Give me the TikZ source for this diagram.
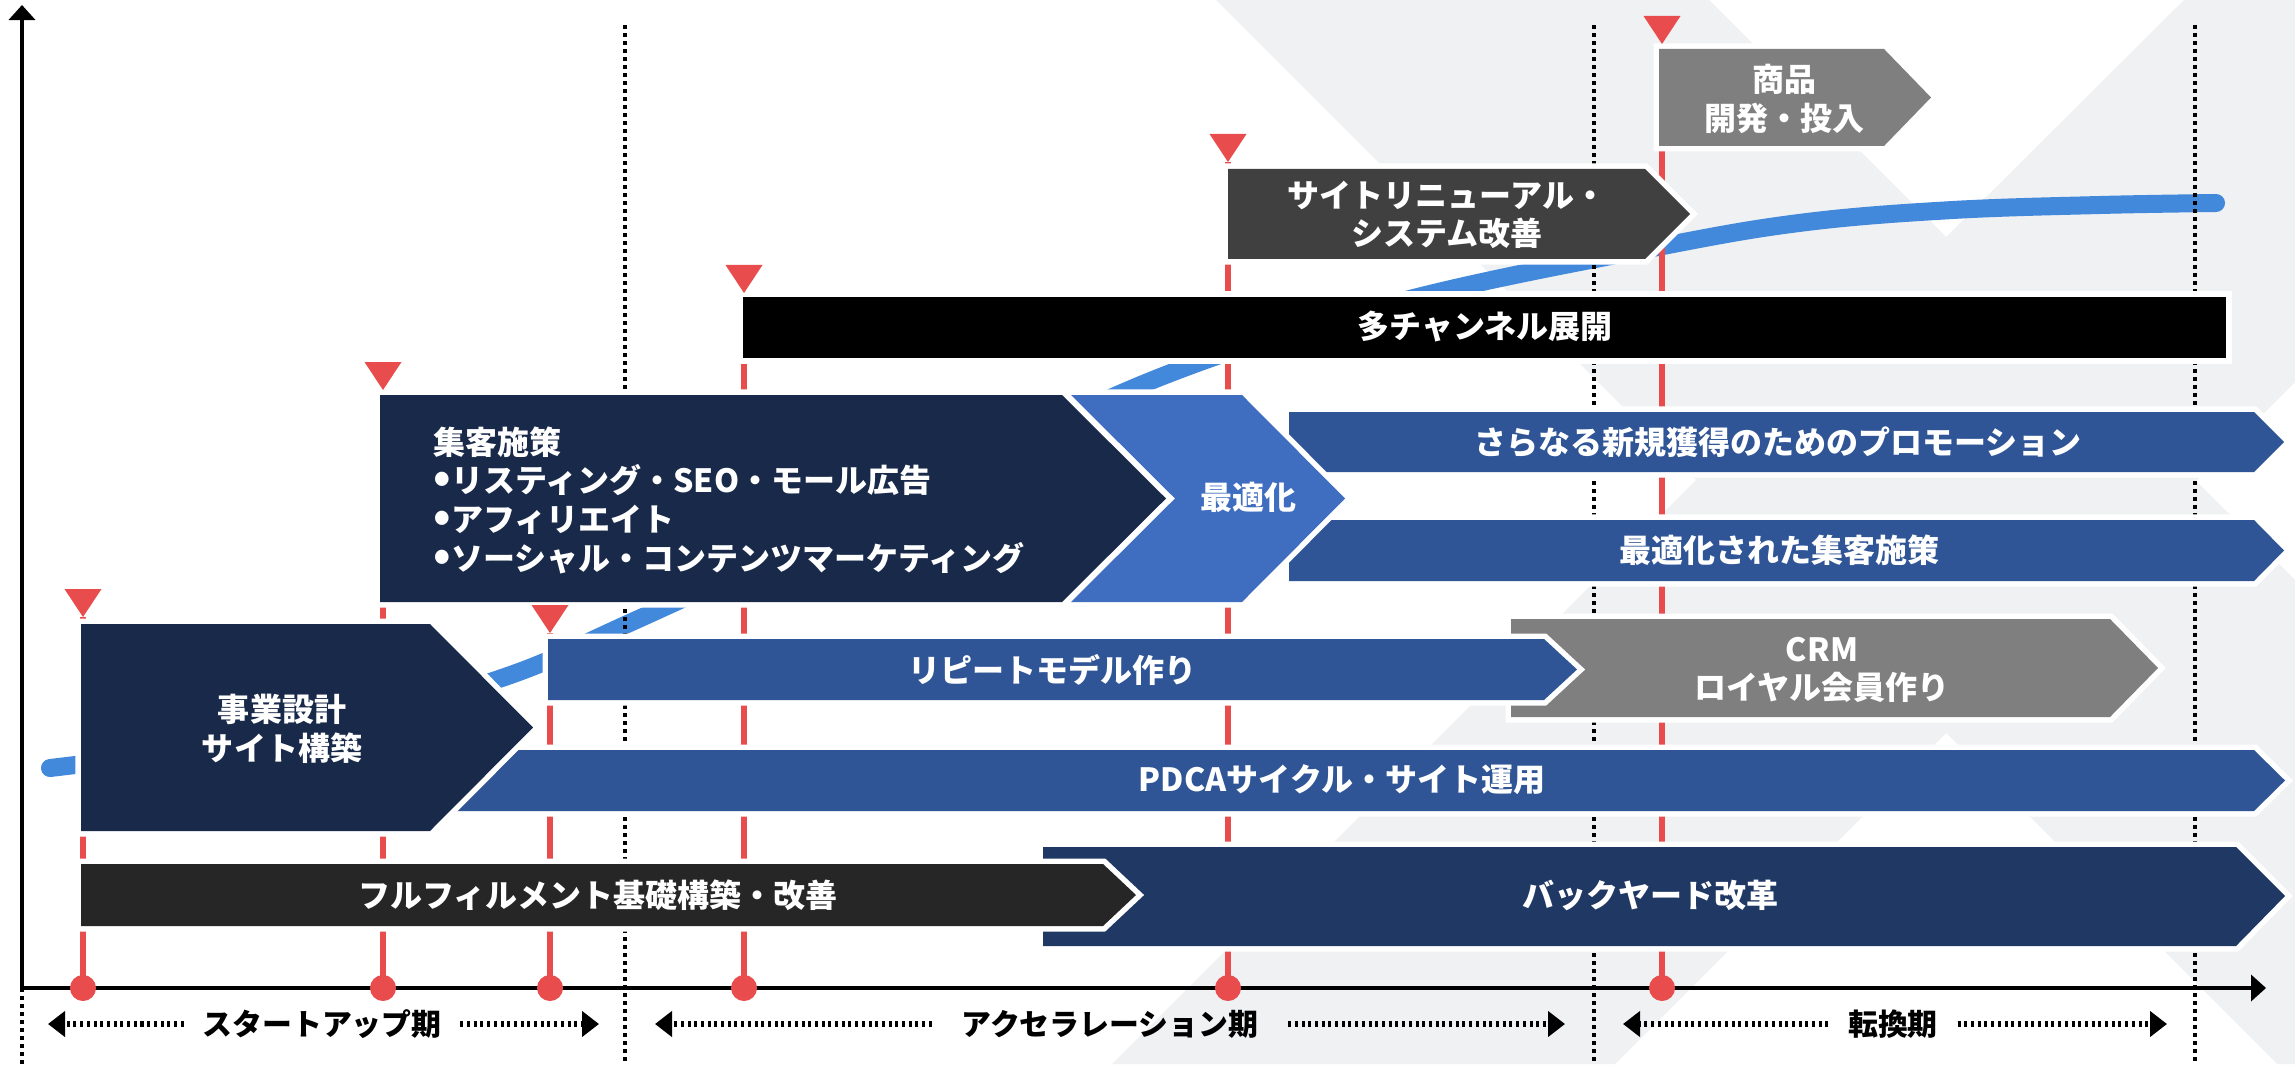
\documentclass[tikz,border=0pt]{standalone}
\usepackage{fontspec}
\setmainfont{Noto Sans CJK JP}
\usetikzlibrary{arrows.meta}
\definecolor{navy}{HTML}{19294A}
\definecolor{navyB}{HTML}{203864}
\definecolor{midblue}{HTML}{2F5597}
\definecolor{optblue}{HTML}{3F6DBF}
\definecolor{grayM}{HTML}{7F7F7F}
\definecolor{grayD}{HTML}{404040}
\definecolor{grayK}{HTML}{262626}
\definecolor{mred}{HTML}{E84C4C}
\definecolor{curveblue}{HTML}{4289DC}
\definecolor{bggray}{HTML}{F0F1F3}
\newcommand{\bigbul}{{\fontsize{12.5pt}{11pt}\selectfont •}}
\tikzset{
  bar/.style={fill=#1, preaction={draw=white, line width=0.11cm}},
  lbl/.style={text=white, font=\fontsize{9.1pt}{11pt}\selectfont\bfseries, inner sep=0pt, align=center},
  per/.style={text=black, font=\fontsize{8.5pt}{10pt}\selectfont\bfseries, inner ysep=0pt},
  vdots/.style={line width=0.042cm, dash pattern=on 0.04cm off 0.04cm},
  perline/.style={line width=0.052cm, dash pattern=on 0.03cm off 0.037cm, -{Triangle[length=0.17cm,width=0.25cm]}},
  redline/.style={mred, line width=0.055cm},
  mdot/.style={circle, fill=mred, inner sep=0pt, minimum size=0.26cm},
  axis/.style={line width=0.045cm, {Triangle[length=0.15cm,width=0.26cm]}-{Triangle[length=0.15cm,width=0.26cm]}},
}
\begin{document}
\begin{tikzpicture}[x=0.01cm, y=-0.01cm]
\useasboundingbox (0,0) rectangle (2295,1064);
\fill[white] (0,0) rectangle (2295,1064);
% background pattern
\fill[bggray] (1216,0) -- (1709,0) -- (1946,237) -- (2184,0) -- (2295,0) -- (2295,382) -- (2196,481) -- (2295,580) -- (2295,1064) -- (2277,1064) -- (1946,733) -- (1615,1064) -- (1112,1064) -- (1696,480) -- cycle;
% growth curve
\draw[curveblue, line width=0.18cm, line cap=round] plot[smooth, tension=0.6] coordinates {(50,768) (300,733) (496,680) (634,621) (900,498) (1163,376) (1406,300) (1663,246) (1807,222) (1953,210) (2100,205) (2216,203)};
% period separators
\coordinate (O) at (22,988);
\coordinate (Obot) at (22,1064);
\foreach \n/\x in {1/625, 2/1594, 3/2195} {
  \coordinate (sepT\n) at (\x,25);
  \coordinate (sepB\n) at (\x,1064);
  \draw[vdots] (sepT\n) -- (sepB\n);
}
\draw[vdots] (O) -- (Obot);
% milestone red lines
\foreach \n/\x/\t in {1/83/589, 2/383/362, 3/550/605, 4/744/265, 5/1228/134, 6/1662/16} {
  \coordinate (tip\n) at (\x,\t+28);
  \coordinate (base\n) at (\x,988);
  \draw[redline] (tip\n) -- (base\n);
}
% bars
\fill[bar=navyB] (1043,847) -- (2236,847) -- (2285,896) -- (2236,946) -- (1043,946) -- cycle;
\fill[bar=grayK] (81,864) -- (1103,864) -- (1136,895) -- (1103,926) -- (81,926) -- cycle;
\fill[bar=midblue] (440,750) -- (2254,750) -- (2285,780.5) -- (2254,811) -- (440,811) -- cycle;
\fill[bar=navy] (81,624) -- (430,624) -- (533,727.5) -- (430,831) -- (81,831) -- cycle;
\fill[bar=grayM] (1511,619) -- (2110,619) -- (2158,668) -- (2110,717) -- (1511,717) -- cycle;
\fill[bar=midblue] (548,639) -- (1544,639) -- (1577,669.5) -- (1544,700) -- (548,700) -- cycle;
\fill[bar=navy] (380,395) -- (1062,395) -- (1166,498.5) -- (1062,602) -- (380,602) -- cycle;
\fill[bar=midblue] (1289,412) -- (2254,412) -- (2284,442) -- (2254,472) -- (1289,472) -- cycle;
\fill[bar=midblue] (1289,520) -- (2254,520) -- (2284,550.5) -- (2254,581) -- (1289,581) -- cycle;
\fill[bar=optblue] (1071,395) -- (1242,395) -- (1345,498.5) -- (1242,602) -- (1071,602) -- (1175,498.5) -- cycle;
\fill[bar=black] (743,297) rectangle (2226,358);
\fill[bar=grayD] (1228,169) -- (1645,169) -- (1690,214) -- (1645,259) -- (1228,259) -- cycle;
\fill[bar=grayM] (1659,49) -- (1884,49) -- (1931,97.5) -- (1884,146) -- (1659,146) -- cycle;
% bar texts
\node[lbl] (backyard) at (1650,895) {バックヤード改革};
\node[lbl] (fulfil) at (598,895) {フルフィルメント基礎構築・改善};
\node[lbl] (pdca) at (1342,780) {PDCAサイクル・サイト運用};
\node[lbl] (jigyo) at (282,729) {事業設計\\サイト構築};
\node[lbl] (crm) at (1822,670) {CRM\\ロイヤル会員作り};
\node[lbl] (repeat) at (1052,670) {リピートモデル作り};
\node[lbl, align=left, anchor=west] (shukyaku) at (433,500) {集客施策\\\bigbul リスティング・SEO・モール広告\\\bigbul アフィリエイト\\\bigbul ソーシャル・コンテンツマーケティング};
\node[lbl] (promo) at (1778,442) {さらなる新規獲得のためのプロモーション};
\node[lbl] (optshu) at (1779,550) {最適化された集客施策};
\node[lbl] (opt) at (1248,497) {最適化};
\node[lbl] (multi) at (1485,327) {多チャンネル展開};
\node[lbl] (renew) at (1447,215) {サイトリニューアル・\\システム改善};
\node[lbl] (shohin) at (1784,99) {商品\\開発・投入};
% axes
\coordinate (ytip) at (22,5);
\coordinate (xtip) at (2266,988);
\draw[axis] (ytip) -- (O) -- (xtip);
% milestone dots and markers
\foreach \n/\x/\t in {1/83/589, 2/383/362, 3/550/605, 4/744/265, 5/1228/134, 6/1662/16} {
  \node[mdot] (dot\n) at (base\n) {};
  \fill[mred] (\x-18.5,\t) -- (\x+18.5,\t) -- (tip\n) -- cycle;
}
% period labels
\node[per, inner xsep=0.18cm] (per1) at (322,1024) {スタートアップ期};
\node[per, inner xsep=0.29cm] (per2) at (1110,1024) {アクセラレーション期};
\node[per, inner xsep=0.19cm] (per3) at (1893,1024) {転換期};
\coordinate (per1L) at (48,1024);
\coordinate (per1R) at (599,1024);
\coordinate (per2L) at (655,1024);
\coordinate (per2R) at (1565,1024);
\coordinate (per3L) at (1623,1024);
\coordinate (per3R) at (2167,1024);
\foreach \n in {1,2,3} {
  \draw[perline] (per\n.west) -- (per\n L);
  \draw[perline] (per\n.east) -- (per\n R);
}
\end{tikzpicture}
\end{document}
